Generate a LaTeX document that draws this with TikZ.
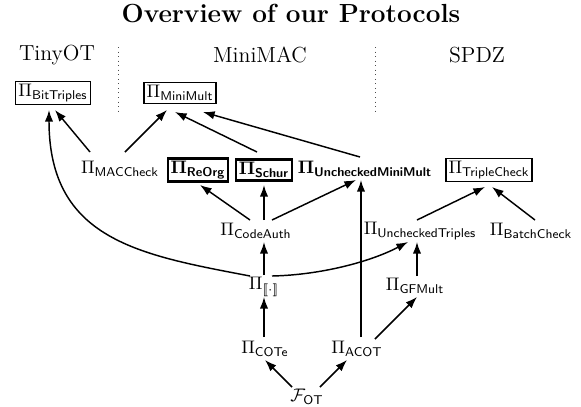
\documentclass[tikz,border=0pt]{standalone}
\usepackage{amsmath}
\usetikzlibrary{arrows.meta,calc}
\begin{document}
\begin{tikzpicture}[x=0.55pt,y=-0.55pt,
  lbl/.style={inner sep=2pt},
  boxed/.style={draw,line width=0.8pt,inner sep=1.5pt},
  boldbox/.style={draw,line width=1.3pt,inner sep=1.5pt,font=\boldmath},
  boldlbl/.style={inner sep=2pt,font=\boldmath},
  head/.style={font=\large},
  sep/.style={line width=0.5pt,dash pattern=on 0.5pt off 2pt,black!70},
  arr/.style={line width=0.8pt,-{Latex[length=6.4pt,width=4.6pt]}}]
\useasboundingbox (0,0) rectangle (581,406);
\node (title) at (291,13) {\Large\bfseries Overview of our Protocols};
\node[head] (tiny) at (57,55) {TinyOT};
\node[head] (mini) at (260,55) {MiniMAC};
\node[head] (spdz) at (477,55) {SPDZ};
\coordinate (s1a) at (118,47); \coordinate (s1b) at (118,112);
\coordinate (s2a) at (375,47); \coordinate (s2b) at (375,112);
\draw[sep] (s1a) -- (s1b);
\draw[sep] (s2a) -- (s2b);

\node[boxed] (BT) at (53,93) {$\Pi_{\mathsf{BitTriples}}$};
\node[boxed] (MM) at (180,93) {$\Pi_{\mathsf{MiniMult}}$};
\node[lbl] (MAC) at (120,169) {$\Pi_{\mathsf{MACCheck}}$};
\node[boldbox] (RO) at (198,170) {$\Pi_{\mathsf{ReOrg}}$};
\node[boldbox] (SC) at (264,170) {$\Pi_{\mathsf{Schur}}$};
\node[boldlbl] (UMM) at (365,169) {$\Pi_{\mathsf{UncheckedMiniMult}}$};
\node[boxed] (TC) at (489,170) {$\Pi_{\mathsf{TripleCheck}}$};
\node[lbl] (CA) at (256,231) {$\Pi_{\mathsf{CodeAuth}}$};
\node[lbl] (UT) at (420,231) {$\Pi_{\mathsf{UncheckedTriples}}$};
\node[lbl] (BC) at (531,231) {$\Pi_{\mathsf{BatchCheck}}$};
\node[lbl] (SH) at (264,287) {$\Pi_{[\![\cdot]\!]}$};
\node[lbl] (GF) at (415,286) {$\Pi_{\mathsf{GFMult}}$};
\node[lbl] (COT) at (265,349) {$\Pi_{\mathsf{COTe}}$};
\node[lbl] (ACOT) at (357,349) {$\Pi_{\mathsf{ACOT}}$};
\node[lbl] (FOT) at (307,397) {$\mathcal{F}_{\mathsf{OT}}$};

\draw[arr] ($(MAC)+(-30,-17)$) -- ($(BT)+(2,17)$);
\draw[arr] ($(MAC)+(5,-17)$) -- ($(MM)+(-13,17)$);
\draw[arr] ($(SC)+(-7,-18)$) -- ($(MM)+(-5,19)$);
\draw[arr] ($(UMM)+(-5,-12)$) -- ($(MM)+(23,19)$);
\draw[arr] ($(CA)+(-6,-11)$) -- ($(RO)+(2,15)$);
\draw[arr] ($(CA)+(8,-11)$) -- ($(SC)+(0,15)$);
\draw[arr] ($(CA)+(16,-11)$) -- ($(UMM)+(-9,11)$);
\draw[arr] ($(SH)+(0,-12)$) -- ($(CA)+(8,11)$);
\draw[arr] ($(SH)+(-14,-11)$) .. controls (140,255) and (49,240) .. ($(BT)+(-4,17)$);
\draw[arr] ($(SH)+(8,-11)$) .. controls (320,275) and (370,262) .. ($(UT)+(-12,11)$);
\draw[arr] ($(COT)+(-1,-12)$) -- ($(SH)+(0,10)$);
\draw[arr] ($(FOT)+(-15,-10)$) -- ($(COT)+(0,11)$);
\draw[arr] ($(FOT)+(13,-10)$) -- ($(ACOT)+(-10,11)$);
\draw[arr] ($(ACOT)+(4,-12)$) -- ($(UMM)+(-4,11)$);
\draw[arr] ($(ACOT)+(18,-10)$) -- ($(GF)+(2,11)$);
\draw[arr] ($(GF)+(2,-10)$) -- ($(UT)+(-3,11)$);
\draw[arr] ($(UT)+(-3,-11)$) -- ($(TC)+(-4,17)$);
\draw[arr] ($(BC)+(4,-11)$) -- ($(TC)+(3,17)$);
\end{tikzpicture}
\end{document}
